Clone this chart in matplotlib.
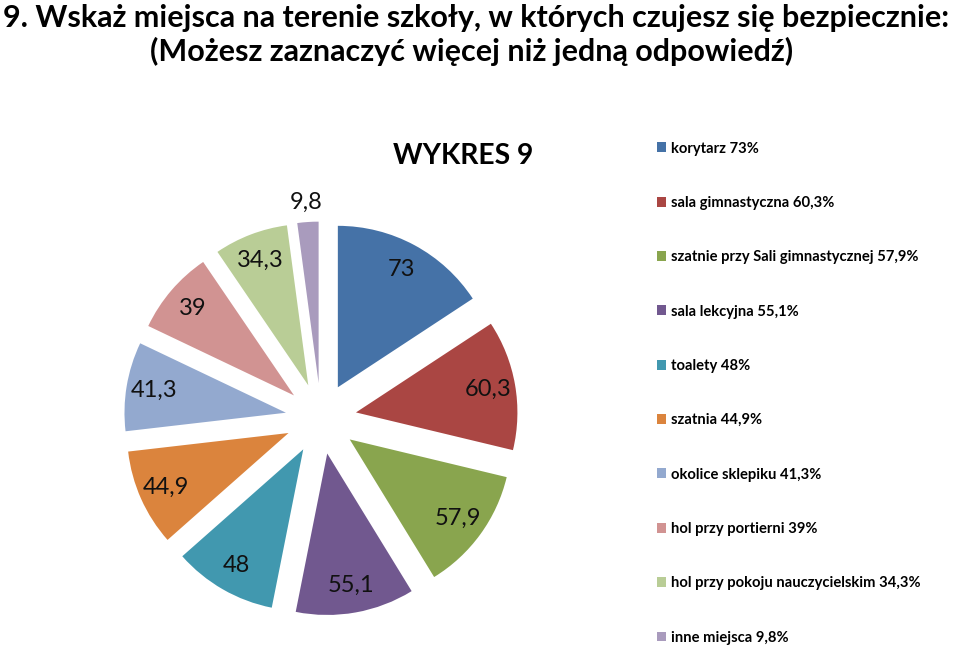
import numpy as np
import matplotlib
matplotlib.use("Agg")
import matplotlib.pyplot as plt

plt.rcParams['font.family'] = ['Lato', 'DejaVu Sans']

places = ["korytarz", "sala gimnastyczna", "szatnie przy Sali gimnastycznej",
          "sala lekcyjna", "toalety", "szatnia", "okolice sklepiku",
          "hol przy portierni", "hol przy pokoju nauczycielskim", "inne miejsca"]
values = [73, 60.3, 57.9, 55.1, 48, 44.9, 41.3, 39, 34.3, 9.8]
colors = ["#4572A7", "#AA4643", "#89A54E", "#71588F", "#4198AF",
          "#DB843D", "#93A9CF", "#D19392", "#B9CD96", "#A99BBD"]


def fmt(v):
    s = f"{v:g}"
    return s.replace(".", ",")


fig = plt.figure(figsize=(9.6, 6.46), dpi=100)

fig.text(0.496, 0.972, "9. Wskaż miejsca na terenie szkoły, w których czujesz się bezpiecznie:",
         ha="center", va="center", fontsize=22, fontweight="bold")
fig.text(0.491, 0.920, "(Możesz zaznaczyć więcej niż jedną odpowiedź)",
         ha="center", va="center", fontsize=22, fontweight="bold")
fig.text(0.483, 0.758, "WYKRES 9", ha="center", va="center",
         fontsize=20.3, fontweight="bold")

ax = fig.add_axes([0.1157, 0.0272, 0.4373, 0.6498])
wedges, _ = ax.pie(values, colors=colors, startangle=90, counterclock=False,
                   explode=[0.22] * len(values), radius=1.0)
ax.set_xlim(-1.3, 1.3)
ax.set_ylim(-1.3, 1.3)
ax.set_aspect("equal")
ax.axis("off")

for i, w in enumerate(wedges):
    ang = np.deg2rad((w.theta1 + w.theta2) / 2)
    d = 1.12 if i == len(wedges) - 1 else 0.83
    cx, cy = w.center
    ax.text(cx + d * np.cos(ang), cy + d * np.sin(ang), fmt(values[i]),
            ha="center", va="center", fontsize=17, color="#111111")

labels = [f"{p} {fmt(v)}%" for p, v in zip(places, values)]
fig.legend(wedges, labels, loc="upper left", bbox_to_anchor=(0.678, 0.790),
           frameon=False, prop={"size": 10.6, "weight": "bold"},
           handlelength=0.65, handleheight=0.65, handletextpad=0.35,
           labelspacing=2.74, borderaxespad=0)

fig.savefig("out.png", dpi=100)
